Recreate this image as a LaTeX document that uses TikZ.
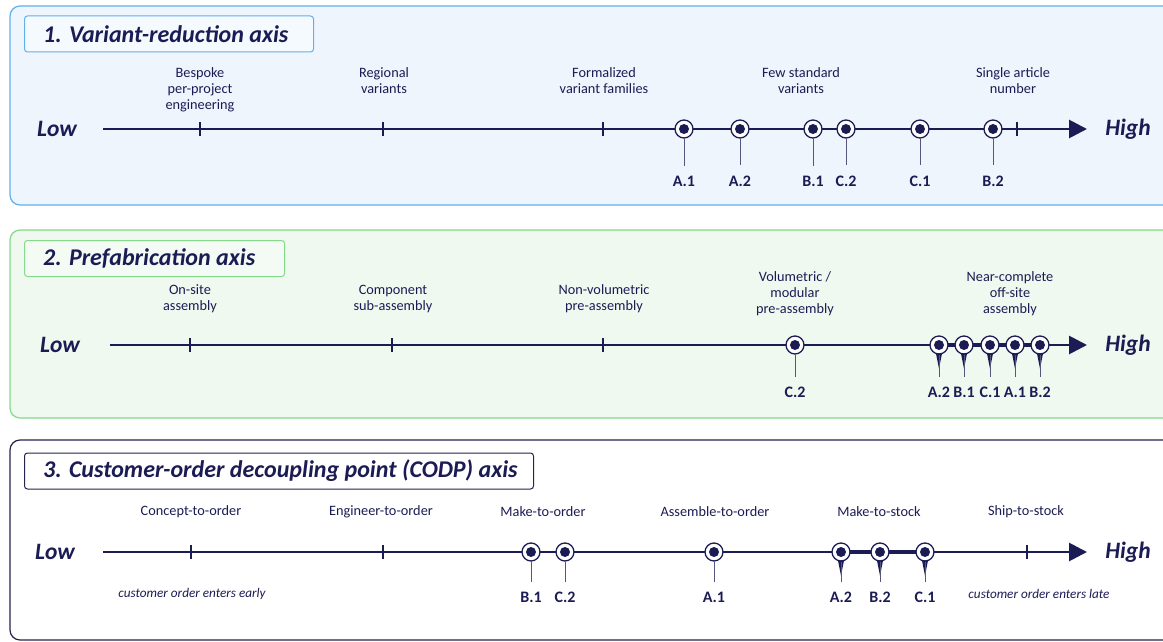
\documentclass[tikz,border=0pt]{standalone}
\usepackage{fontspec}
\setmainfont{Carlito}
\usetikzlibrary{arrows.meta}
\definecolor{navy}{HTML}{1C1C54}
\definecolor{stemc}{HTML}{55557E}
\definecolor{blueline}{HTML}{62B0EA}
\definecolor{bluefill}{HTML}{EEF5FC}
\definecolor{bluetitle}{HTML}{F5FAFE}
\definecolor{greenline}{HTML}{86D98A}
\definecolor{greenfill}{HTML}{EFF9EF}
\definecolor{greentitle}{HTML}{F4FBF4}
\definecolor{darkline}{HTML}{24244F}
\tikzset{
  panel/.style={rounded corners=10pt, line width=1.2pt},
  titlebox/.style={rounded corners=3pt, line width=1pt, anchor=west, minimum height=36pt, inner sep=0pt},
  titletext/.style={anchor=west, inner sep=0pt, text=navy, font=\fontsize{24}{28}\selectfont\bfseries\itshape},
  axisline/.style={line width=2.8pt, draw=navy, -{Triangle[length=18pt,width=18pt]}},
  tickmark/.style={line width=1.5pt, draw=navy},
  endlab/.style={text=navy, font=\fontsize{23.5}{27}\selectfont\bfseries\itshape},
  stagelab/.style={text=navy, font=\fontsize{14.3}{16}\selectfont, align=center, inner sep=0pt},
  mk/.style={circle, draw=navy, line width=1.3pt, fill=white, minimum size=18pt, inner sep=0pt,
    path picture={\fill[navy] (path picture bounding box.center) circle (5pt);}},
  mklab/.style={text=navy, font=\fontsize{16}{18}\selectfont\bfseries, inner sep=2pt},
  stem/.style={draw=stemc, line width=0.9pt, shorten >=8pt},
  pin/.style={fill=navy},
  bridge/.style={draw=navy, line width=4.5pt},
  note/.style={text=navy, font=\fontsize{13.2}{15}\selectfont\itshape}
}
\begin{document}
\begin{tikzpicture}[x=1pt,y=-1pt]
\useasboundingbox (0,0) rectangle (1163,642);

% ---------- panels ----------
\draw[panel, draw=blueline, fill=bluefill] (10,6) rectangle (1180,205);
\draw[panel, draw=greenline, fill=greenfill] (10,230) rectangle (1180,418);
\draw[panel, draw=darkline, fill=white] (10,440) rectangle (1180,640);

\node[titlebox, draw=blueline, fill=bluetitle, minimum width=289pt] (t1) at (24,34) {};
\node[titletext] (tt1) at ([xshift=19pt]t1.west) {1. Variant-reduction axis};
\node[titlebox, draw=greenline, fill=greentitle, minimum width=260pt] (t2) at (24,258.5) {};
\node[titletext] (tt2) at ([xshift=19pt]t2.west) {2. Prefabrication axis};
\node[titlebox, draw=darkline, fill=white, minimum width=509pt] (t3) at (24,471) {};
\node[titletext] (tt3) at ([xshift=19pt]t3.west) {3. Customer-order decoupling point (CODP) axis};

% ---------- axis 1: variant reduction ----------
\node[endlab] (low1) at (57,129) {Low};
\node[endlab] (high1) at (1128,129) {High};
\coordinate (s1) at (103,129);
\coordinate (e1) at (1087,129);
\draw[axisline] (s1) -- (e1);
\foreach \n/\x in {a/200,b/383,c/603,d/1017}{
  \coordinate (k1\n) at (\x,129);
  \draw[tickmark] ([yshift=-7pt]k1\n) -- ([yshift=7pt]k1\n);
}
\node[stagelab, anchor=north] (g1a) at (200,67) {Bespoke\\per-project\\engineering};
\node[stagelab, anchor=north] (g1b) at (384,67) {Regional\\variants};
\node[stagelab, anchor=north] (g1c) at (604,67) {Formalized\\variant families};
\node[stagelab, anchor=north] (g1d) at (801,67) {Few standard\\variants};
\node[stagelab, anchor=north] (g1e) at (1013,67) {Single article\\number};
\foreach \n/\x/\t in {a/684/A.1, b/740/A.2, c/813/B.1, d/846/C.2, e/920/C.1, f/993/B.2}{
  \node[mk] (m1\n) at (\x,129) {};
  \node[mklab] (l1\n) at (\x,181) {\t};
  \draw[stem] (m1\n) -- (l1\n);
}

% ---------- axis 2: prefabrication ----------
\node[endlab] (low2) at (60,345) {Low};
\node[endlab] (high2) at (1128,345) {High};
\coordinate (s2) at (110,345);
\coordinate (e2) at (1087,345);
\draw[axisline] (s2) -- (e2);
\foreach \n/\x in {a/190,b/392,c/603}{
  \coordinate (k2\n) at (\x,345);
  \draw[tickmark] ([yshift=-7pt]k2\n) -- ([yshift=7pt]k2\n);
}
\node[stagelab, anchor=south] (g2a) at (190,313) {On-site\\assembly};
\node[stagelab, anchor=south] (g2b) at (393,313) {Component\\sub-assembly};
\node[stagelab, anchor=south] (g2c) at (604,313) {Non-volumetric\\pre-assembly};
\node[stagelab, anchor=south] (g2d) at (795,316) {Volumetric /\\modular\\pre-assembly};
\node[stagelab, anchor=south] (g2e) at (1010,316) {Near-complete\\off-site\\assembly};
\node[mk] (m2a) at (795,345) {};
\node[mklab] (l2a) at (795,392) {C.2};
\draw[stem] (m2a) -- (l2a);
\draw[bridge] (939,345) -- (1040,345);
\foreach \n/\x/\t in {b/939/A.2, c/964/B.1, d/990/C.1, e/1015/A.1, f/1040/B.2}{
  \node[mk] (m2\n) at (\x,345) {};
  \fill[pin] ([xshift=-3pt,yshift=1pt]m2\n.south) -- ([xshift=3pt,yshift=1pt]m2\n.south) -- ([yshift=-14pt]m2\n.south) -- cycle;
  \node[mklab] (l2\n) at (\x,392) {\t};
  \draw[stem] (m2\n) -- (l2\n);
}

% ---------- axis 3: CODP ----------
\node[endlab] (low3) at (55,552) {Low};
\node[endlab] (high3) at (1128,552) {High};
\coordinate (s3) at (103,552);
\coordinate (e3) at (1087,552);
\draw[axisline] (s3) -- (e3);
\foreach \n/\x in {a/191,b/383,c/1027}{
  \coordinate (k3\n) at (\x,552);
  \draw[tickmark] ([yshift=-7pt]k3\n) -- ([yshift=7pt]k3\n);
}
\node[stagelab] (g3a) at (191,512) {Concept-to-order};
\node[stagelab] (g3b) at (381,512) {Engineer-to-order};
\node[stagelab] (g3c) at (543,512) {Make-to-order};
\node[stagelab] (g3d) at (715,512) {Assemble-to-order};
\node[stagelab] (g3e) at (879,512) {Make-to-stock};
\node[stagelab] (g3f) at (1026,512) {Ship-to-stock};
\node[note] (n3a) at (192,594) {customer order enters early};
\node[note] (n3b) at (1039,594) {customer order enters late};
\draw[bridge] (841,552) -- (925,552);
\foreach \n/\x/\t in {a/531/B.1, b/565/C.2, c/714/A.1}{
  \node[mk] (m3\n) at (\x,552) {};
  \node[mklab] (l3\n) at (\x,597) {\t};
  \draw[stem] (m3\n) -- (l3\n);
}
\foreach \n/\x/\t in {d/841/A.2, e/880/B.2, f/925/C.1}{
  \node[mk] (m3\n) at (\x,552) {};
  \fill[pin] ([xshift=-3pt,yshift=1pt]m3\n.south) -- ([xshift=3pt,yshift=1pt]m3\n.south) -- ([yshift=-14pt]m3\n.south) -- cycle;
  \node[mklab] (l3\n) at (\x,597) {\t};
  \draw[stem] (m3\n) -- (l3\n);
}
\end{tikzpicture}
\end{document}
